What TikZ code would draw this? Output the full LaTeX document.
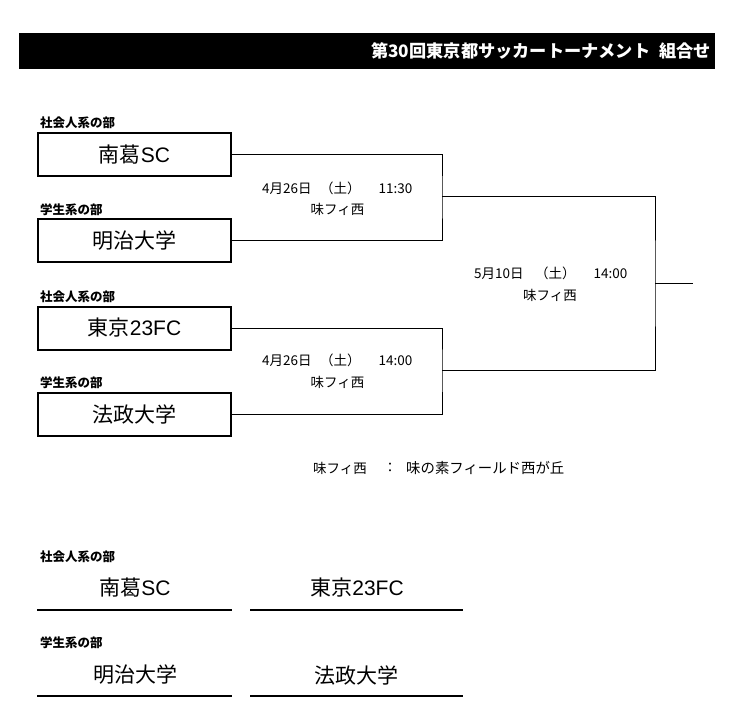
\documentclass[tikz,border=0pt]{standalone}
\usepackage{fontspec}
\setmainfont{Noto Sans CJK JP}
\newfontfamily\lat{Liberation Sans}
\begin{document}
\begin{tikzpicture}[x=1pt,y=-1pt,
  team/.style={draw,line width=2pt,minimum width=193pt,minimum height=43pt,inner sep=0pt,font=\fontsize{21}{21}\selectfont},
  teamtxt/.style={inner sep=0pt,font=\fontsize{21}{21}\selectfont},
  grp/.style={anchor=west,inner sep=0pt,font=\fontsize{12.5}{12.5}\selectfont\bfseries},
  info/.style={inner sep=0pt,font=\fontsize{13.5}{13.5}\selectfont},
  conn/.style={line width=1pt},
  uline/.style={line width=2.2pt}]
\useasboundingbox (0,0) rectangle (741,727);
% title bar
\fill[black] (19,33) rectangle (715,69);
\node[anchor=east,inner sep=0pt,text=white,font=\fontsize{17.2}{17.2}\selectfont\bfseries] (title) at (711,51) {第30回東京都サッカートーナメント\hspace{9pt}組合せ};
% bracket teams
\node[grp] (g1) at (40,123) {社会人系の部};
\node[team] (t1) at (134.5,155) {南葛{\lat SC}};
\node[grp] (g2) at (40,210) {学生系の部};
\node[team] (t2) at (134.5,241) {明治大学};
\node[grp] (g3) at (40,297) {社会人系の部};
\node[team] (t3) at (134.5,328) {東京{\lat 23FC}};
\node[grp] (g4) at (40,383) {学生系の部};
\node[team] (t4) at (134.5,414.5) {法政大学};
% connectors
\coordinate (m1) at (442,197);
\coordinate (m2) at (442,370);
\coordinate (f) at (655,283.5);
\coordinate (w) at (693,283.5);
\draw[conn] (t1.east) -| (m1) |- (t2.east);
\draw[conn] (t3.east) -| (m2) |- (t4.east);
\draw[conn] (m1) -| (f) |- (m2);
\draw[conn] (f) -- (w);
% match info
\node[info,anchor=west] (d1) at (262,188) {\makebox[58pt][l]{4月26日}（土）\hspace{18pt}11:30};
\node[info] (v1) at (337.5,209.5) {味フィ西};
\node[info,anchor=west] (d2) at (262,360.5) {\makebox[58pt][l]{4月26日}（土）\hspace{18pt}14:00};
\node[info] (v2) at (337.5,382) {味フィ西};
\node[info,anchor=west] (d3) at (474,273) {\makebox[61pt][l]{5月10日}（土）\hspace{18pt}14:00};
\node[info] (v3) at (550,295) {味フィ西};
% footnote
\node[info,anchor=west] (n1) at (313,468) {味フィ西};
\node[info] (n2) at (390,468) {：};
\node[info,anchor=west,font=\fontsize{14.4}{14.4}\selectfont] (n3) at (406,468) {味の素フィールド西が丘};
% lower list
\node[grp] (h1) at (40,556.5) {社会人系の部};
\node[teamtxt] (b1) at (135,588) {南葛{\lat SC}};
\node[teamtxt] (b2) at (357,588) {東京{\lat 23FC}};
\coordinate (l1a) at (37,610); \coordinate (l1b) at (232,610);
\coordinate (l2a) at (250,610); \coordinate (l2b) at (463,610);
\draw[uline] (l1a) -- (l1b);
\draw[uline] (l2a) -- (l2b);
\node[grp] (h2) at (40,642.5) {学生系の部};
\node[teamtxt] (b3) at (135,675) {明治大学};
\node[teamtxt] (b4) at (356.5,675) {法政大学};
\coordinate (l3a) at (37,696); \coordinate (l3b) at (232,696);
\coordinate (l4a) at (250,696); \coordinate (l4b) at (463,696);
\draw[uline] (l3a) -- (l3b);
\draw[uline] (l4a) -- (l4b);
\end{tikzpicture}
\end{document}
